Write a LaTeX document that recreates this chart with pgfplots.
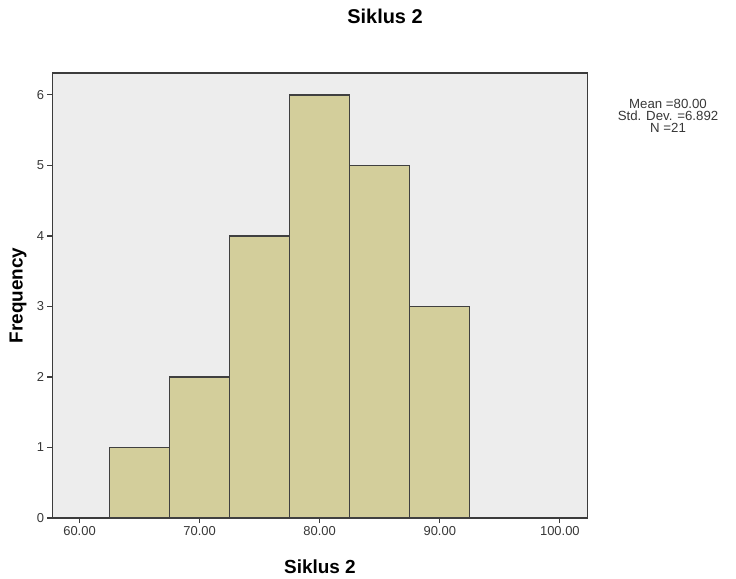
\documentclass[border=0pt]{standalone}
\usepackage{pgfplots}
\pgfplotsset{compat=1.18}
\usepackage{fontspec}
\setmainfont{Liberation Sans}
\definecolor{barfill}{RGB}{211,206,155}
\definecolor{bg}{RGB}{237,237,237}
\definecolor{axline}{RGB}{60,60,60}
\definecolor{ticktxt}{RGB}{55,55,55}
\begin{document}
\begin{tikzpicture}
\begin{axis}[
  scale only axis,
  width=535bp, height=445bp,
  xmin=57.75, xmax=102.3,
  ymin=0, ymax=6.31,
  axis background/.style={fill=bg},
  axis line style={axline, line width=1.3pt},
  xtick={60,70,80,90,100},
  ytick={0,1,2,3,4,5,6},
  xtick pos=bottom, ytick pos=left,
  tick align=outside,
  major tick length=5bp,
  tick style={axline, line width=1.2pt},
  /pgf/number format/assume math mode=true,
  xticklabel style={/pgf/number format/.cd, fixed, fixed zerofill, precision=2},
  yticklabel style={/pgf/number format/.cd, fixed, precision=0},
  ticklabel style={font=\fontsize{13}{15}\selectfont, text=ticktxt},
  xlabel={\textbf{Siklus 2}},
  ylabel={\textbf{Frequency}},
  xlabel style={at={(axis description cs:0.5,-0.110)}, anchor=center, font=\fontsize{19}{22}\selectfont},
  ylabel style={at={(axis description cs:-0.0645,0.5)}, anchor=center, font=\fontsize{19}{22}\selectfont},
  title={\textbf{Siklus 2}},
  title style={at={(axis description cs:0.6215,1.1146)}, anchor=center, font=\fontsize{20}{24}\selectfont},
  clip=false,
]
\addplot[ybar interval, fill=barfill, draw=black!75, line width=1.3pt]
  coordinates {(62.5,1) (67.5,2) (72.5,4) (77.5,6) (82.5,5) (87.5,3) (92.5,3)};
\node[anchor=north, align=center, font=\fontsize{13.3}{12.5}\selectfont, text=ticktxt]
  at (axis description cs:1.1505,0.950) {Mean =80.00\\Std. Dev. =6.892\\N =21};
\end{axis}
\path (-52.5bp,-61bp) rectangle (683.5bp,518bp);
\end{tikzpicture}
\end{document}
